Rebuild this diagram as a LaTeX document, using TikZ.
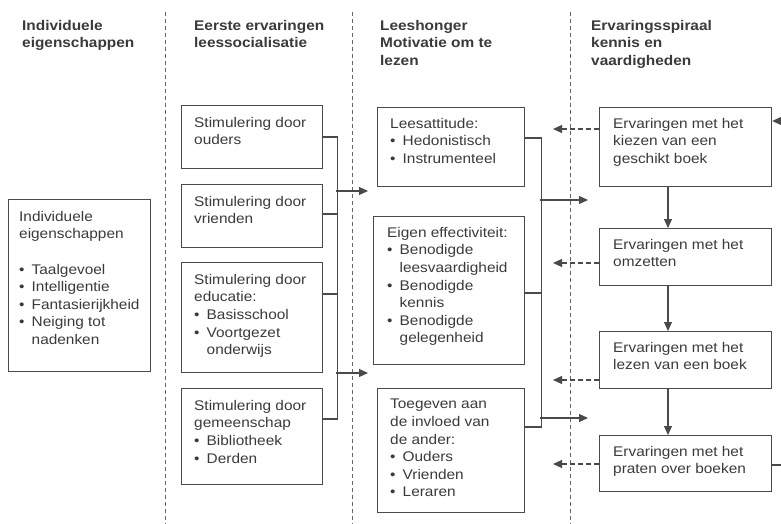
\documentclass[tikz,border=0pt]{standalone}
\usepackage{fontspec}
\setmainfont[FakeStretch=1.1]{Liberation Sans}
\usetikzlibrary{arrows.meta,calc}
\definecolor{tx}{HTML}{3A3A3A}
\definecolor{ln}{HTML}{4A4A4A}
\newcommand\bl{\makebox[12.5pt][l]{\textbullet}}
\newcommand\bi{\hspace*{12.5pt}}
\begin{document}
\begin{tikzpicture}[x=1pt,y=-1pt,
  every node/.style={text=tx, font=\fontsize{14}{17.6}\selectfont},
  boxs/.style={draw=ln, line width=1.2pt, inner sep=0, anchor=north west},
  txt/.style={inner sep=0, anchor=north west, align=left},
  hdr/.style={inner sep=0, anchor=north west, align=left, font=\bfseries\fontsize{14}{17.5}\selectfont},
  sep/.style={draw=ln!85, line width=0.8pt, dash pattern=on 4pt off 3pt},
  conn/.style={draw=ln, line width=1.1pt},
  arr/.style={conn, -{Triangle[length=9pt,width=8pt]}},
  darr/.style={arr, dash pattern=on 5pt off 3pt}]
\useasboundingbox (0,0) rectangle (781,524);

% headers
\node[hdr] (h1) at (22,20) {Individuele\\eigenschappen};
\node[hdr] (h2) at (194,20) {Eerste ervaringen\\leessocialisatie};
\node[hdr] (h3) at (380,20) {Leeshonger\\Motivatie om te\\lezen};
\node[hdr] (h4) at (591,20) {Ervaringsspiraal\\kennis en\\vaardigheden};

% column separators
\coordinate (c1t) at (165,12); \coordinate (c1b) at (165,524);
\coordinate (c2t) at (352,12); \coordinate (c2b) at (352,524);
\coordinate (c3t) at (570,12); \coordinate (c3b) at (570,524);
\draw[sep] (c1t) -- (c1b);
\draw[sep] (c2t) -- (c2b);
\draw[sep] (c3t) -- (c3b);

% column 1
\node[boxs, minimum width=142, minimum height=172] (l) at (8,199) {};
\node[txt] (lt) at ($(l.north west)+(11,12)$) {Individuele\\eigenschappen\\[17.6pt]\bl Taalgevoel\\\bl Intelligentie\\\bl Fantasierijkheid\\\bl Neiging tot\\\bi nadenken};

% column 2
\node[boxs, minimum width=141, minimum height=63] (s1) at (181,105) {};
\node[boxs, minimum width=141, minimum height=63] (s2) at (181,184) {};
\node[boxs, minimum width=141, minimum height=110] (s3) at (181,262) {};
\node[boxs, minimum width=141, minimum height=96] (s4) at (181,388) {};
\node[txt] (s1t) at ($(s1.north west)+(13,12)$) {Stimulering door\\ouders};
\node[txt] (s2t) at ($(s2.north west)+(13,12)$) {Stimulering door\\vrienden};
\node[txt] (s3t) at ($(s3.north west)+(13,12)$) {Stimulering door\\educatie:\\\bl Basisschool\\\bl Voortgezet\\\bi onderwijs};
\node[txt] (s4t) at ($(s4.north west)+(13,12)$) {Stimulering door\\gemeenschap\\\bl Bibliotheek\\\bl Derden};

\coordinate (j1) at ($(s1.north east)+(14,32)$);
\coordinate (j4) at ($(s4.north east)+(14,31)$);
\draw[conn] ($(s1.north east)+(0,32)$) -- (j1) -- (j4) -- ($(s4.north east)+(0,31)$);
\draw[conn] ($(s2.north east)+(0,30)$) -- ($(s2.north east)+(14,30)$);
\draw[conn] ($(s3.north east)+(0,32)$) -- ($(s3.north east)+(14,32)$);
\coordinate (a1s) at (336,191); \coordinate (a1e) at (368,191);
\coordinate (a2s) at (336,373); \coordinate (a2e) at (368,373);
\draw[arr] (a1s) -- (a1e);
\draw[arr] (a2s) -- (a2e);

% column 3
\node[boxs, minimum width=147, minimum height=79] (m1) at (377,107) {};
\node[boxs, minimum width=151, minimum height=148] (m2) at (373,216) {};
\node[boxs, minimum width=147, minimum height=124] (m3) at (377,388) {};
\node[txt] (m1t) at ($(m1.north west)+(13,11)$) {Leesattitude:\\\bl Hedonistisch\\\bl Instrumenteel};
\node[txt] (m2t) at ($(m2.north west)+(14,11)$) {Eigen effectiviteit:\\\bl Benodigde\\\bi leesvaardigheid\\\bl Benodigde\\\bi kennis\\\bl Benodigde\\\bi gelegenheid};
\node[txt] (m3t) at ($(m3.north west)+(13,11)$) {Toegeven aan\\de invloed van\\de ander:\\\bl Ouders\\\bl Vrienden\\\bl Leraren};

\coordinate (k1) at ($(m1.north east)+(16,31)$);
\coordinate (k3) at ($(m3.north east)+(16,39)$);
\draw[conn] ($(m1.north east)+(0,31)$) -- (k1) -- (k3) -- ($(m3.north east)+(0,39)$);
\draw[conn] ($(m2.north east)+(0,77)$) -- ($(m2.north east)+(16,77)$);
\coordinate (b1s) at (540,200); \coordinate (b1e) at (588,200);
\coordinate (b2s) at (540,418); \coordinate (b2e) at (588,418);
\draw[arr] (b1s) -- (b1e);
\draw[arr] (b2s) -- (b2e);

% column 4
\node[boxs, minimum width=172, minimum height=79] (e1) at (599,107) {};
\node[boxs, minimum width=172, minimum height=57] (e2) at (599,228) {};
\node[boxs, minimum width=172, minimum height=57] (e3) at (599,331) {};
\node[boxs, minimum width=172, minimum height=56] (e4) at (599,435) {};
\node[txt] (e1t) at ($(e1.north west)+(14,11)$) {Ervaringen met het\\kiezen van een\\geschikt boek};
\node[txt] (e2t) at ($(e2.north west)+(14,11)$) {Ervaringen met het\\omzetten};
\node[txt] (e3t) at ($(e3.north west)+(14,11)$) {Ervaringen met het\\lezen van een boek};
\node[txt] (e4t) at ($(e4.north west)+(14,11)$) {Ervaringen met het\\praten over boeken};

\draw[arr] ($(e1.south west)+(69,0)$) -- ($(e2.north west)+(69,0)$);
\draw[arr] ($(e2.south west)+(69,0)$) -- ($(e3.north west)+(69,0)$);
\draw[arr] ($(e3.south west)+(69,0)$) -- ($(e4.north west)+(69,0)$);

\coordinate (d1) at (553,129);
\coordinate (d2) at (553,263);
\coordinate (d3) at (553,380);
\coordinate (d4) at (553,464);
\draw[darr] ($(e1.north west)+(0,22)$) -- (d1);
\draw[darr] ($(e2.north west)+(0,35)$) -- (d2);
\draw[darr] ($(e3.north west)+(0,49)$) -- (d3);
\draw[darr] ($(e4.north west)+(0,29)$) -- (d4);

% feedback stubs (loop runs off the right edge)
\coordinate (fb1) at (781,121);
\coordinate (fb4) at (781,465);
\draw[conn] ($(e4.north east)+(0,30)$) -- (fb4);
\draw[arr] (fb1) -- ($(e1.north east)+(0,14)$);
\end{tikzpicture}
\end{document}
